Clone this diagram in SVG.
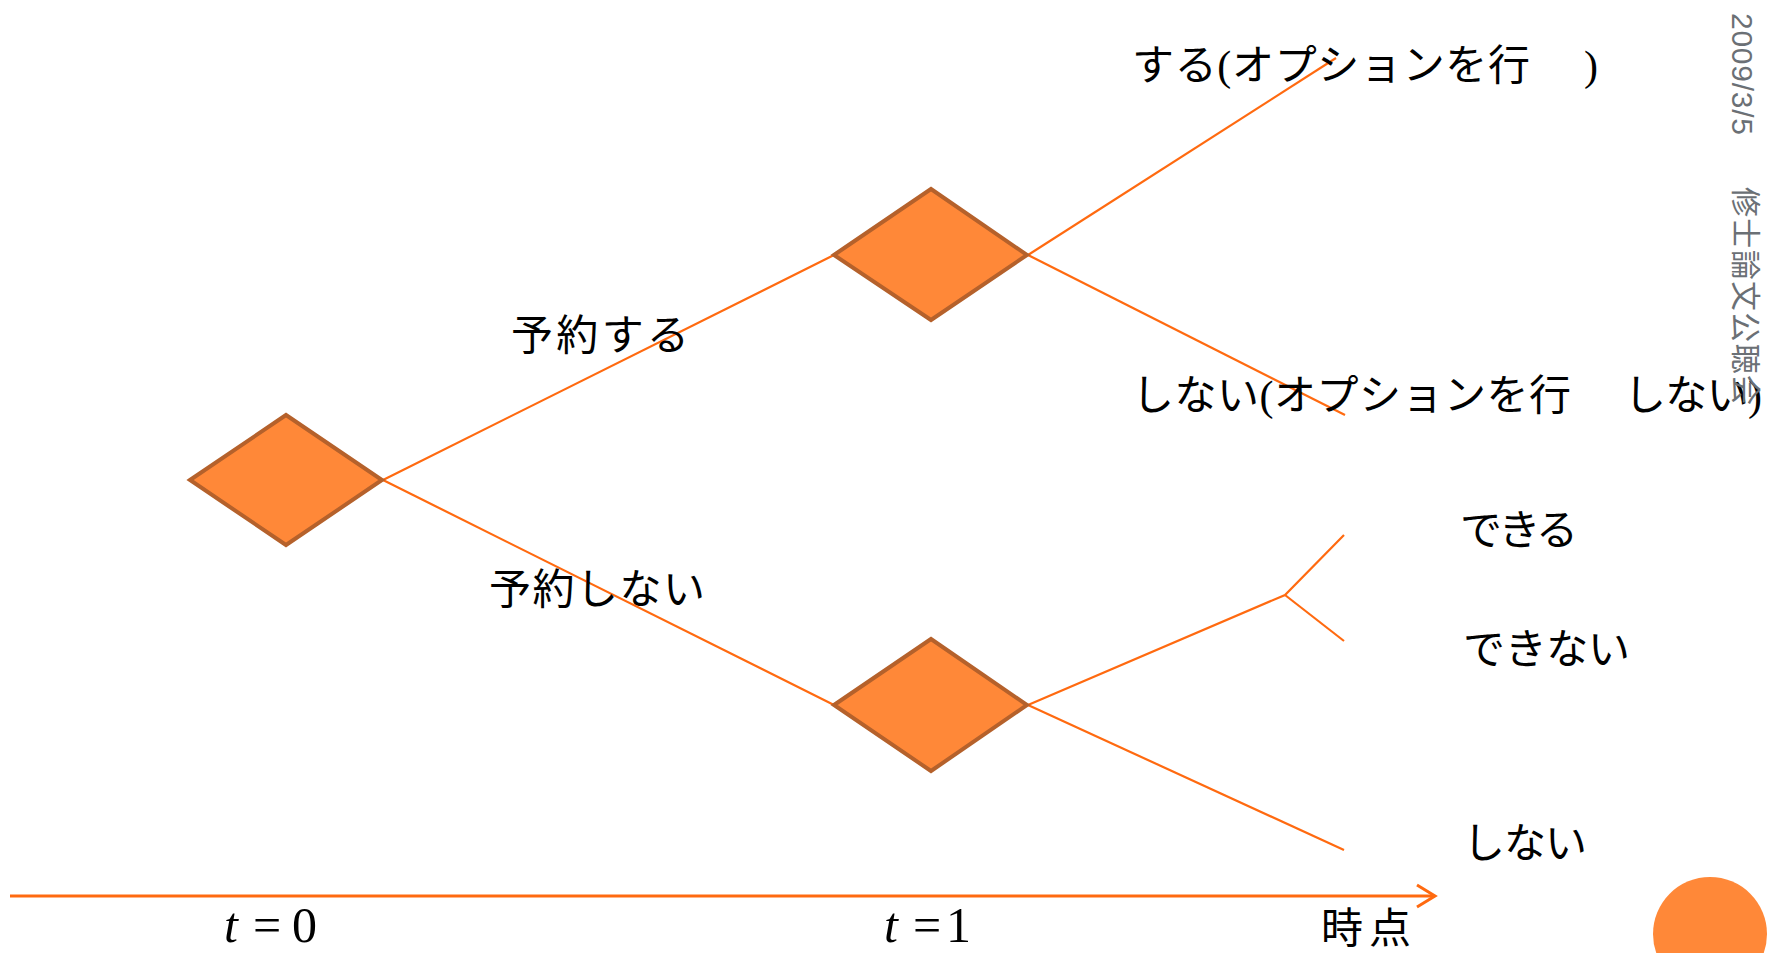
<svg xmlns="http://www.w3.org/2000/svg" width="1768" height="953" viewBox="0 0 1768 953">
<style>
.dia{fill:#FF8838;stroke:#B5612B;stroke-width:4;stroke-linejoin:miter}
.ln{stroke:#FF6A10;stroke-width:2.2;fill:none}
.jp{font-family:"Liberation Serif","Noto Sans CJK JP",serif;font-size:42px;fill:#000}
.tm{font-family:"Liberation Serif",serif;font-size:50px;fill:#000}
.side{font-family:"Liberation Sans","Noto Sans CJK JP",sans-serif;fill:#6B7075}
</style>
<rect width="1768" height="953" fill="#fff"/>
<g id="connectors">
<line class="ln" x1="383" y1="480" x2="834" y2="255"/>
<line class="ln" x1="383" y1="480" x2="834" y2="705"/>
<line class="ln" x1="1028" y1="255" x2="1336" y2="58"/>
<line class="ln" x1="1028" y1="255" x2="1345" y2="415"/>
<polyline class="ln" points="1028,705 1285,595 1344,535"/>
<line class="ln" x1="1285" y1="595" x2="1344" y2="641"/>
<line class="ln" x1="1028" y1="705" x2="1344" y2="850"/>
<g id="time-axis">
<line x1="10" y1="896" x2="1434" y2="896" stroke="#FF6A10" stroke-width="3"/>
<polyline points="1417,885 1435,896 1417,907" fill="none" stroke="#FF6A10" stroke-width="3"/>
</g>
</g>
<g id="node-t0"><polygon class="dia" points="190,480 286,415 382,480 286,545"/></g>
<g id="node-reserve"><polygon class="dia" points="834,255 931,189 1027,255 931,320"/></g>
<g id="node-noreserve"><polygon class="dia" points="834,705 931,639 1027,705 931,771"/></g>
<g id="labels">
<text class="jp" x="511" y="350" textLength="178">予約する</text>
<text class="jp" x="489" y="604" textLength="216">予約しない</text>
<text class="jp" x="1132" y="80" textLength="398">する(オプションを行</text>
<text class="jp" x="1584" y="80">)</text>
<text class="jp" x="1132" y="410" textLength="439">しない(オプションを行</text>
<text class="jp" x="1624" y="410" textLength="138">しない)</text>
<text class="jp" x="1460" y="545" textLength="118">できる</text>
<text class="jp" x="1463" y="664" textLength="167">できない</text>
<text class="jp" x="1463" y="858" textLength="124">しない</text>
<text class="jp" x="1321" y="943" textLength="90">時点</text>
<text class="tm" x="224" y="942" font-style="italic">t</text>
<text class="tm" x="253" y="942">=</text>
<text class="tm" x="292" y="942">0</text>
<text class="tm" x="884" y="942" font-style="italic">t</text>
<text class="tm" x="913" y="942">=</text>
<text class="tm" x="946" y="942">1</text>
</g>
<g id="side">
<text class="side" font-size="30" transform="translate(1732,13) rotate(90)" textLength="122">2009/3/5</text>
<text class="side" font-size="30" transform="translate(1735,187) rotate(90)" textLength="218">修士論文公聴会</text>
</g>
<circle id="deco" cx="1710" cy="934" r="57" fill="#FF8838"/>
</svg>
